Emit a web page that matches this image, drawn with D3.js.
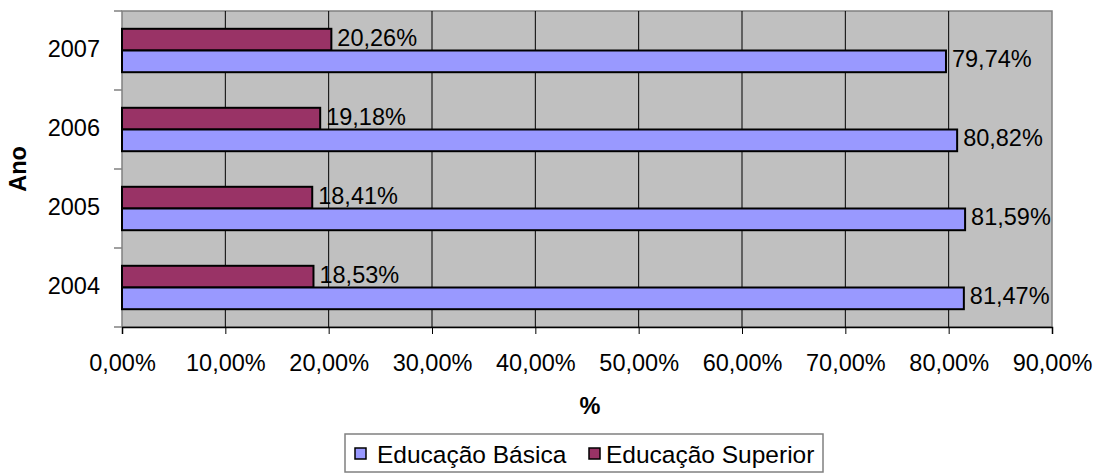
<!DOCTYPE html>
<html>
<head>
<meta charset="utf-8">
<script src="https://cdn.jsdelivr.net/npm/d3@7"></script>
<style>
  body { margin: 0; background: #fff; }
  text { font-family: "Liberation Sans", Arial, sans-serif; }
</style>
</head>
<body>
<div id="chart"></div>
<script>
// data
const years = ['2007', '2006', '2005', '2004']
const basica = [79.74, 80.82, 81.59, 81.47]
const superior = [20.26, 19.18, 18.41, 18.53]
const xTicks = [0, 10, 20, 30, 40, 50, 60, 70, 80, 90]
const seriesNames = ['Educação Básica', 'Educação Superior']
const colors = { basica: '#9999FF', superior: '#993366' }

const W = 1098, H = 475
const FS = 23.5
const plot = { left: 122, top: 11, right: 1052, bottom: 327 }
const fmt = v => v.toFixed(2).replace('.', ',') + '%'

const svg = d3.select('#chart').append('svg')
  .attr('width', W).attr('height', H)

const x = d3.scaleLinear().domain([0, 90]).range([plot.left, plot.right])
const y = d3.scaleBand().domain(years).range([plot.top, plot.bottom])

// plot background
svg.append('rect')
  .attr('x', plot.left).attr('y', plot.top)
  .attr('width', plot.right - plot.left).attr('height', plot.bottom - plot.top)
  .attr('fill', '#C0C0C0').attr('stroke', '#808080').attr('stroke-width', 1.5)

// vertical gridlines
svg.selectAll('.grid')
  .data(xTicks.slice(1, -1))
  .enter().append('line')
    .attr('x1', d => x(d)).attr('x2', d => x(d))
    .attr('y1', plot.top).attr('y2', plot.bottom)
    .attr('stroke', '#000').attr('stroke-width', 1)

// bars
const barH = 21.7
const groups = svg.selectAll('.yr')
  .data(years.map((yr, i) => ({ yr, b: basica[i], s: superior[i] })))
  .enter().append('g')
    .attr('class', 'yr')

groups.append('rect')
  .attr('x', x(0))
  .attr('y', d => y(d.yr) + y.bandwidth() / 2 - barH)
  .attr('width', d => x(d.s) - x(0))
  .attr('height', barH)
  .attr('fill', colors.superior).attr('stroke', '#000').attr('stroke-width', 2)

groups.append('rect')
  .attr('x', x(0))
  .attr('y', d => y(d.yr) + y.bandwidth() / 2)
  .attr('width', d => x(d.b) - x(0))
  .attr('height', barH)
  .attr('fill', colors.basica).attr('stroke', '#000').attr('stroke-width', 2)

groups.append('text')
  .attr('x', d => x(d.s) + 6)
  .attr('y', d => y(d.yr) + y.bandwidth() / 2 - barH / 2 + 6)
  .attr('font-size', FS)
  .text(d => fmt(d.s))

groups.append('text')
  .attr('x', d => x(d.b) + 6)
  .attr('y', d => y(d.yr) + y.bandwidth() / 2 + barH / 2 + 5.5)
  .attr('font-size', FS)
  .text(d => fmt(d.b))

// x axis
const xAxis = svg.append('g')
  .attr('transform', `translate(0, ${plot.bottom})`)
  .call(d3.axisBottom(x).tickValues(xTicks).tickSize(7)
    .tickFormat(d => fmt(d)))
xAxis.select('.domain').attr('stroke', '#000').attr('stroke-width', 1.5)
xAxis.selectAll('.tick line').attr('stroke', '#000')
xAxis.selectAll('text')
  .attr('y', 44).attr('dy', 0)
  .attr('font-size', FS).attr('fill', '#000')
  .attr('font-family', '"Liberation Sans", Arial, sans-serif')

// y axis: ticks at band edges
const yAxis = svg.append('g')
yAxis.selectAll('line')
  .data(years.map(yr => y(yr)).concat([plot.bottom]))
  .enter().append('line')
    .attr('x1', plot.left - 8).attr('x2', plot.left)
    .attr('y1', d => d).attr('y2', d => d)
    .attr('stroke', '#808080').attr('stroke-width', 1.5)
yAxis.selectAll('text')
  .data(years)
  .enter().append('text')
    .attr('x', plot.left - 22)
    .attr('y', d => y(d) + y.bandwidth() / 2 + 6.5)
    .attr('text-anchor', 'end')
    .attr('font-size', FS)
    .text(d => d)

// axis titles
svg.append('text')
  .attr('transform', `translate(26, ${(plot.top + plot.bottom) / 2}) rotate(-90)`)
  .attr('text-anchor', 'middle')
  .attr('font-size', FS).attr('font-weight', 'bold')
  .text('Ano')

svg.append('text')
  .attr('x', (plot.left + plot.right) / 2 + 3).attr('y', 414)
  .attr('text-anchor', 'middle')
  .attr('font-size', FS).attr('font-weight', 'bold')
  .text('%')

// legend
const legend = svg.append('g')
legend.append('rect')
  .attr('x', 345).attr('y', 434).attr('width', 478).attr('height', 38)
  .attr('fill', '#fff').attr('stroke', '#808080').attr('stroke-width', 1.5)

const legItems = [
  { name: seriesNames[0], color: colors.basica, x: 355, tx: 377 },
  { name: seriesNames[1], color: colors.superior, x: 589, tx: 606 }
]
const li = legend.selectAll('.li').data(legItems).enter().append('g')
li.append('rect')
  .attr('x', d => d.x).attr('y', 448).attr('width', 11).attr('height', 11)
  .attr('fill', d => d.color).attr('stroke', '#000').attr('stroke-width', 1.5)
li.append('text')
  .attr('x', d => d.tx).attr('y', 462.5)
  .attr('font-size', 24.5)
  .text(d => d.name)
</script>
</body>
</html>
